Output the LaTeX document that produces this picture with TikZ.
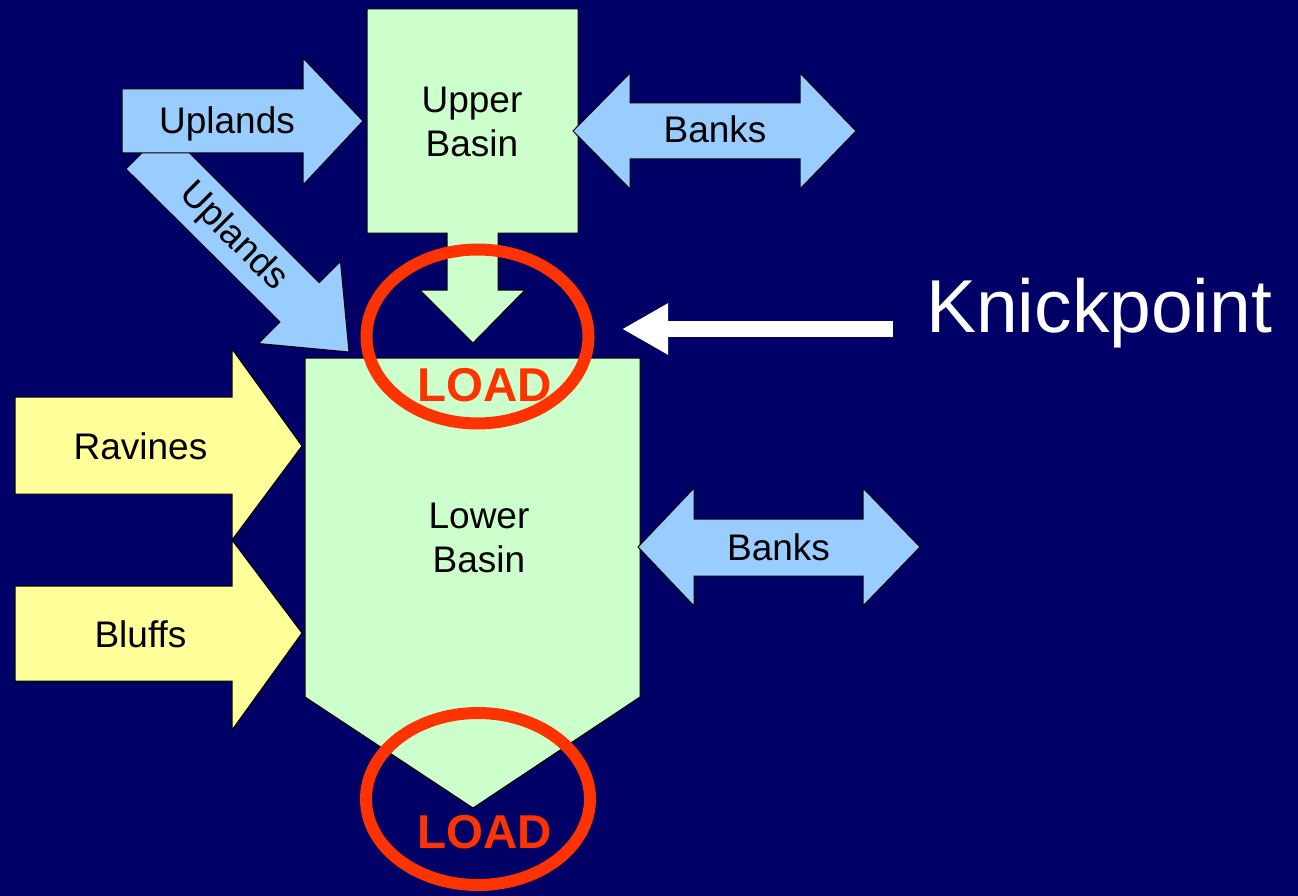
\documentclass[tikz,border=0pt]{standalone}
\usepackage{fontspec}
\setmainfont{Liberation Sans}
\usepackage{xcolor}
\definecolor{Navy}{HTML}{000066}
\definecolor{PaleGreen}{HTML}{CCFFCC}
\definecolor{SkyBlue}{HTML}{99CCFF}
\definecolor{PaleYellow}{HTML}{FFFF99}
\definecolor{LoadRed}{HTML}{FF3300}
\usepackage{tikz}
\usetikzlibrary{arrows.meta}

\begin{document}
\begin{tikzpicture}[
  x=1pt,y=-1pt,
  bluearrow/.style={draw=black,fill=SkyBlue,line width=1pt},
  yellowarrow/.style={draw=black,fill=PaleYellow,line width=1pt},
  basin/.style={draw=black,fill=PaleGreen,line width=1pt},
  ring/.style={draw=LoadRed,line width=12pt},
  lbl/.style={font=\fontsize{37}{44}\selectfont,text=black,inner sep=0pt,align=center},
  load/.style={font=\fontsize{47.5}{50}\selectfont\bfseries,text=LoadRed,inner sep=0pt},
  knickarrow/.style={-{Triangle[length=46pt,width=48pt]},draw=white,line width=16pt}
]
  \fill[Navy] (0,0) rectangle (1298,896);

  % inputs to the upper basin
  \draw[bluearrow] (126,169) -- (280,322) -- (258.5,343.5) -- (349,352) -- (340.5,261.5)
    -- (319.3,282.7) -- (165.8,129.2) -- cycle;
  \draw[bluearrow] (122,89) -- (303,89) -- (303,58) -- (363,121) -- (303,185) -- (303,153)
    -- (122,153) -- cycle;
  \draw[basin] (367,9) -- (578,9) -- (578,233) -- (498,233) -- (498,290) -- (525,290)
    -- (473,343) -- (420,290) -- (447,290) -- (447,233) -- (367,233) -- cycle;
  \draw[bluearrow] (573,131) -- (630,73) -- (630,103) -- (800,103) -- (800,73) -- (856,131)
    -- (800,189) -- (800,159) -- (630,159) -- (630,189) -- cycle;

  % lower basin and its inputs
  \draw[basin] (305,358) -- (640,358) -- (640,697) -- (473,808) -- (305,697) -- cycle;
  \draw[bluearrow] (638,547) -- (694,488) -- (694,519) -- (863,519) -- (863,488) -- (920,547)
    -- (863,606) -- (863,576) -- (694,576) -- (694,606) -- cycle;
  \draw[yellowarrow] (15,397) -- (232,397) -- (232,349) -- (302,446) -- (232,540) -- (232,494)
    -- (15,494) -- cycle;
  \draw[yellowarrow] (15,586) -- (232,586) -- (232,540) -- (302,633) -- (232,730) -- (232,681)
    -- (15,681) -- cycle;

  \draw[ring] (477.5,336.5) ellipse [x radius=111pt,y radius=87pt];
  \draw[ring] (478,799) ellipse [x radius=112pt,y radius=86pt];

  \node[lbl,anchor=base] (uplandsA) at (227,134) {Uplands};
  \node[lbl,rotate=-45] (uplandsB) at (233,237) {Uplands};
  \node[lbl] (upper) at (472,122) {Upper\\Basin};
  \node[lbl,anchor=base] (banksA) at (715,143) {Banks};
  \node[lbl] (lower) at (479,538) {Lower\\Basin};
  \node[lbl,anchor=base] (banksB) at (778.5,560) {Banks};
  \node[lbl,anchor=base] (ravines) at (140.5,459) {Ravines};
  \node[lbl,anchor=base] (bluffs) at (140.5,647) {Bluffs};
  \node[load,anchor=base] (loadA) at (485,401) {LOAD};
  \node[load,anchor=base] (loadB) at (485,848) {LOAD};

  \node[anchor=base west,font=\fontsize{75}{80}\selectfont,text=white,inner sep=0pt] (knick) at (926,332) {Knickpoint};
  \coordinate (kp) at (622,329);
  \draw[knickarrow] ([xshift=-33pt,yshift=3pt]knick.base west) -- (kp);
\end{tikzpicture}
\end{document}
